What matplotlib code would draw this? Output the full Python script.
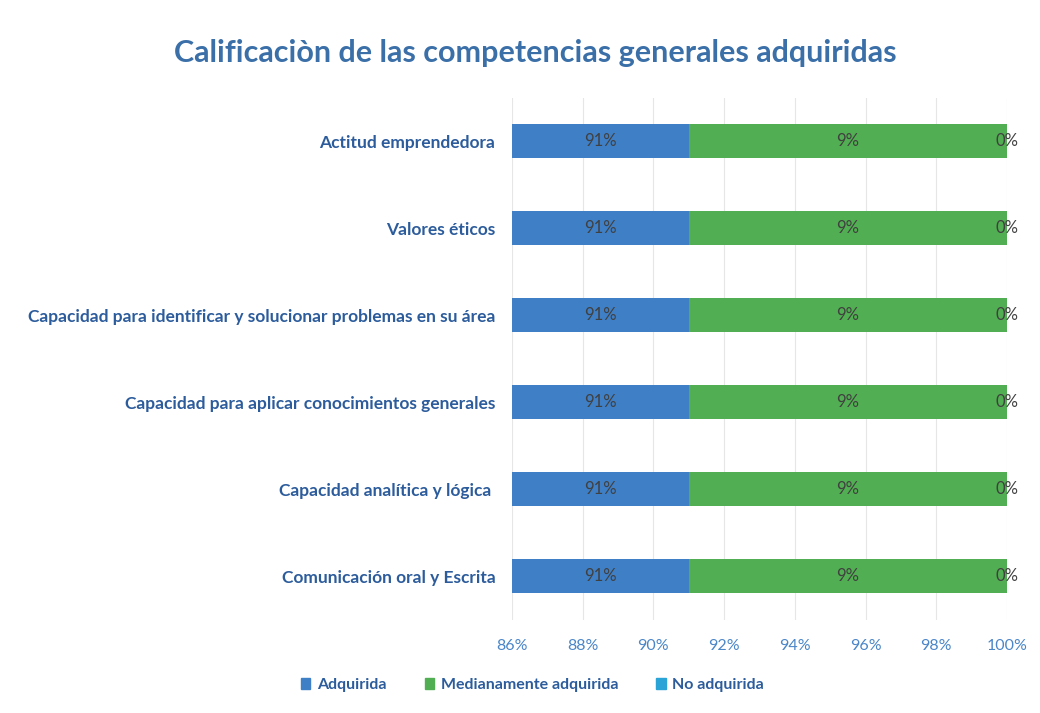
import matplotlib
matplotlib.use("Agg")
import matplotlib.pyplot as plt
from matplotlib.patches import Patch
import numpy as np

categories = [
    "Comunicación oral y Escrita",
    "Capacidad analítica y lógica ",
    "Capacidad para aplicar conocimientos generales",
    "Capacidad para identificar y solucionar problemas en su área",
    "Valores éticos",
    "Actitud emprendedora",
]
adquirida = [91, 91, 91, 91, 91, 91]
medianamente = [9, 9, 9, 9, 9, 9]
no_adquirida = [0, 0, 0, 0, 0, 0]
series_names = ["Adquirida", "Medianamente adquirida", "No adquirida"]
xticks = [86, 88, 90, 92, 94, 96, 98, 100]

plt.rcParams['font.family'] = ['Lato', 'DejaVu Sans']

c_blue = "#3f7fc6"
c_green = "#52ae52"
c_cyan = "#2aa3d6"
label_color = "#2c5c9c"
text_dark = "#404040"

fig = plt.figure(figsize=(10.4, 7.13), dpi=100)
ax = fig.add_axes([0.4923, 0.1311, 0.476, 0.732])

y = np.arange(len(categories))
h = 0.4
ax.barh(y, adquirida, height=h, color=c_blue, zorder=3)
left2 = np.array(adquirida)
ax.barh(y, medianamente, left=left2, height=h, color=c_green, zorder=3)
left3 = left2 + np.array(medianamente)
ax.barh(y, no_adquirida, left=left3, height=h, color=c_cyan, zorder=3)

xmin, xmax = 86, 100
ax.set_xlim(xmin, xmax)
ax.set_ylim(-0.5, len(categories) - 0.5)

for i in range(len(categories)):
    a = adquirida[i]
    m = medianamente[i]
    n = no_adquirida[i]
    ax.text((max(xmin, 0) + a) / 2, y[i], f"{a}%", ha="center", va="center",
            fontsize=12, color=text_dark, zorder=4)
    ax.text(a + m / 2, y[i], f"{m}%", ha="center", va="center",
            fontsize=12, color=text_dark, zorder=4)
    ax.text(a + m + n / 2, y[i], f"{n}%", ha="center", va="center",
            fontsize=12, color=text_dark, zorder=4, clip_on=False)

ax.set_xticks(xticks)
ax.set_xticklabels([f"{v}%" for v in xticks], fontsize=11.5, color="#4a86c8")
ax.tick_params(axis="x", length=0, pad=14)
ax.set_yticks(y)
ax.set_yticklabels(categories, fontsize=12.5, fontweight="bold", color=label_color)
ax.tick_params(axis="y", length=0, pad=12)
for s in ax.spines.values():
    s.set_visible(False)
ax.grid(axis="x", color="#e6e6e6", linewidth=0.8, zorder=0)

fig.text(0.515, 0.925, "Calificaciòn de las competencias generales adquiridas",
         ha="center", va="center", fontsize=22, fontweight="bold", color="#3a6fa8")

handles = [Patch(color=c_blue), Patch(color=c_green), Patch(color=c_cyan)]
fig.legend(handles, series_names, loc="center", bbox_to_anchor=(0.512, 0.039), ncol=3,
           frameon=False, prop={"size": 11.5, "weight": "bold"}, handlelength=0.6,
           handleheight=0.6, handletextpad=0.4, columnspacing=2.4, labelcolor=label_color)

fig.savefig("out.png", dpi=100)
